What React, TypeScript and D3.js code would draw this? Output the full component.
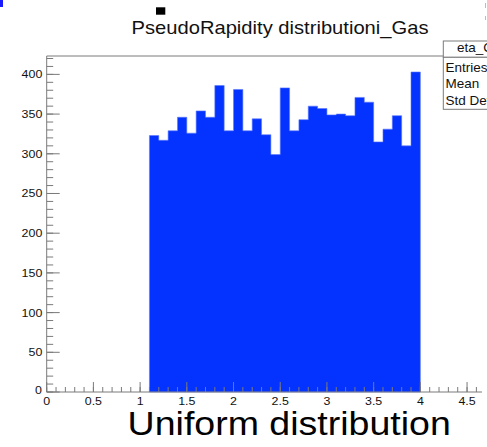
import React from "react";
import * as d3 from "d3";

// Histogram contents: 29 bins of width 0.1 starting at eta = 1.1
const binStart = 1.1;
const binWidth = 0.1;
const counts = [
  323, 317, 329, 346, 326, 354, 346, 386, 329, 381, 329, 344, 324, 299, 383,
  329, 343, 360, 357, 349, 350, 348, 371, 365, 315, 331, 348, 310, 403,
];
const xTickLabels = ["0", "0.5", "1", "1.5", "2", "2.5", "3", "3.5", "4", "4.5"];
const yTickLabels = ["0", "50", "100", "150", "200", "250", "300", "350", "400"];
const statsRows = ["Entries", "Mean", "Std Dev"];

const W = 487;
const H = 447;
const frame = { left: 46.7, right: 482, top: 56, bottom: 392 };
const axisColor = "#7a7a7a";
const barColor = "#0433ff";
const font = "'Liberation Sans', Arial, Helvetica, sans-serif";

function StretchText({ x, y, size, sx, anchor, children, fill = "#111" }: any) {
  return (
    <text
      transform={`translate(${x},${y}) scale(${sx},1)`}
      fontSize={size}
      fontFamily={font}
      textAnchor={anchor}
      fill={fill}
    >
      {children}
    </text>
  );
}

export default function App() {
  const yMax = 1.05 * (d3.max(counts) as number);
  const x = d3.scaleLinear().domain([0, 4.66]).range([frame.left, frame.right]);
  const y = d3.scaleLinear().domain([0, yMax]).range([frame.bottom, frame.top]);

  // histogram outline as a single stepped area
  const area = d3
    .area<number>()
    .curve(d3.curveStepAfter)
    .x((_, i) => x(binStart + i * binWidth))
    .y0(y(0))
    .y1((d) => y(d));
  const stepped = [...counts, counts[counts.length - 1]];

  const xMajor = xTickLabels.map((t) => +t);
  const xMinor = d3.range(0, 47).map((i) => i * 0.1).filter((v) => x(v) <= frame.right);
  const yMajor = yTickLabels.map((t) => +t);
  const yMinor = d3.range(0, 43).map((i) => i * 10).filter((v) => y(v) >= frame.top);

  const boxLeft = 443.3;

  return (
    <svg
      width={W}
      height={H}
      style={{ position: "absolute", left: 0, top: 0, background: "#fff" }}
    >
      <rect x={0} y={0} width={W} height={H} fill="#fff" />
      <rect x={0} y={0} width={3} height={7} fill="#1a1aff" />
      <rect x={156} y={7.3} width={9.3} height={7.4} fill="#000" />
      <line x1={485.5} x2={485.5} y1={3} y2={8} stroke="#bbb" strokeWidth={1} />
      <line x1={485.5} x2={485.5} y1={16} y2={20} stroke="#bbb" strokeWidth={1} />

      <StretchText x={280} y={34.3} size={18} sx={1.12} anchor="middle">
        PseudoRapidity distributioni_Gas
      </StretchText>

      {/* bins */}
      <path d={area(stepped) as string} fill={barColor} stroke="#5a78ff" strokeWidth={0.6} />

      {/* frame and axes */}
      <line x1={frame.left} x2={frame.right} y1={frame.top} y2={frame.top} stroke={axisColor} strokeWidth={1} />
      <line x1={frame.left} x2={frame.right} y1={frame.bottom} y2={frame.bottom} stroke={axisColor} strokeWidth={1} />
      <line x1={frame.left} x2={frame.left} y1={frame.top} y2={frame.bottom} stroke={axisColor} strokeWidth={1} />

      {xMinor.map((v, i) => (
        <line key={"xm" + i} x1={x(v)} x2={x(v)} y1={frame.bottom} y2={frame.bottom - 5} stroke={axisColor} strokeWidth={1} />
      ))}
      {xMajor.map((v, i) => (
        <line key={"xM" + i} x1={x(v)} x2={x(v)} y1={frame.bottom} y2={frame.bottom - 10} stroke={axisColor} strokeWidth={1} />
      ))}
      {yMinor.map((v, i) => (
        <line key={"ym" + i} x1={frame.left} x2={frame.left + 6.5} y1={y(v)} y2={y(v)} stroke={axisColor} strokeWidth={1} />
      ))}
      {yMajor.map((v, i) => (
        <line key={"yM" + i} x1={frame.left} x2={frame.left + 13} y1={y(v)} y2={y(v)} stroke={axisColor} strokeWidth={1} />
      ))}

      {xTickLabels.map((t, i) => (
        <StretchText key={"xl" + i} x={x(+t)} y={404.5} size={11.5} sx={1.08} anchor="middle">
          {t}
        </StretchText>
      ))}
      {yTickLabels.map((t, i) => (
        <StretchText
          key={"yl" + i}
          x={t === "0" ? 42 : 42.3}
          y={y(+t) + (t === "0" ? 1.5 : 4)}
          size={11.5}
          sx={1.08}
          anchor="end"
        >
          {t}
        </StretchText>
      ))}

      {/* statistics box */}
      <rect x={boxLeft} y={41} width={80} height={16.3} fill="#fff" stroke={axisColor} strokeWidth={1} />
      <rect x={boxLeft} y={57.3} width={80} height={52} fill="#fff" stroke={axisColor} strokeWidth={1} />
      <StretchText x={457} y={52} size={12.5} sx={1.08} anchor="start">
        eta_Gas
      </StretchText>
      {statsRows.map((r, i) => (
        <StretchText key={"sr" + i} x={445.5} y={71.5 + i * 16.5} size={12.5} sx={1.08} anchor="start">
          {r}
        </StretchText>
      ))}

      <StretchText x={289.2} y={435} size={32.5} sx={1.155} anchor="middle" fill="#000">
        Uniform distribution
      </StretchText>
    </svg>
  );
}
